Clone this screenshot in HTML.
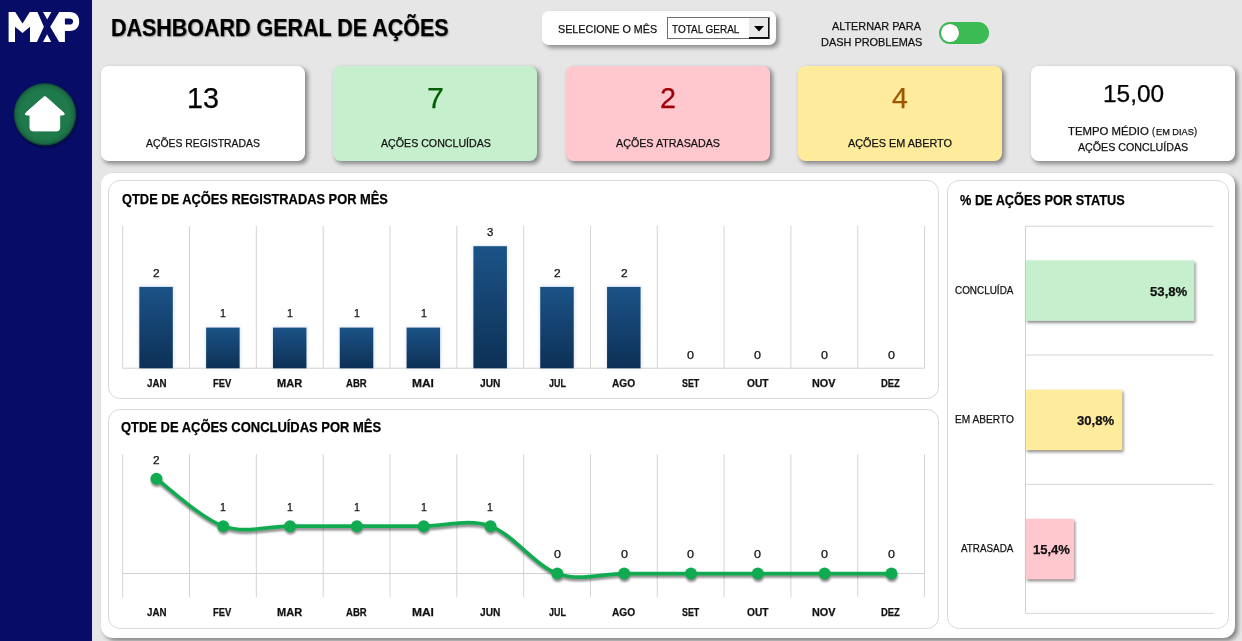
<!DOCTYPE html>
<html><head><meta charset="utf-8"><title>Dashboard Geral de Ações</title><style>
html,body{margin:0;padding:0}
body{width:1242px;height:641px;overflow:hidden;background:#e6e6e6;position:relative;font-family:"Liberation Sans",sans-serif}
.t{position:absolute;white-space:nowrap;transform-origin:0 0;margin:0;padding:0;line-height:40px;-webkit-text-stroke:0.25px currentColor}
#side{position:absolute;left:0;top:0;width:92px;height:641px;background:#070d66}
#sideline{position:absolute;left:92px;top:0;width:1px;height:641px;background:#dfe3f7}
#logo{position:absolute;left:0;top:0}
#home{position:absolute;left:0;top:70px}
#selbox{position:absolute;left:542px;top:11px;width:234px;height:34px;background:#fff;border-radius:7px;box-shadow:3px 3px 4px rgba(0,0,0,.38)}
#combo{position:absolute;left:667px;top:17px;width:101px;height:20px;background:#fff;border:1px solid #707070}
#cbtn{position:absolute;right:0;top:0;width:19px;height:19px;background:#e9e9e9;border-right:1px solid #111;border-bottom:2px solid #111}
#tog{position:absolute;left:939px;top:21.6px;width:50.4px;height:22.4px;border-radius:11.2px;background:#3cba54}
#knob{position:absolute;left:2.4px;top:2.3px;width:17.8px;height:17.8px;border-radius:50%;background:#fff;box-shadow:0 0 1px rgba(0,0,0,.3)}
.card{position:absolute;top:65.9px;width:204.1px;height:95.1px;border-radius:7.5px;box-shadow:2.5px 2.5px 4px rgba(0,0,0,.4)}
#big{position:absolute;left:101px;top:173.4px;width:1134.4px;height:464.4px;background:#fff;border-radius:12px;box-shadow:3px 3px 4px rgba(0,0,0,.42)}
.cbox{position:absolute;border:1px solid #d9d9d9;border-radius:12px;background:#fff;box-sizing:border-box}
#ch{position:absolute;left:0;top:0}
</style></head><body>
<div id="side"></div><div id="sideline"></div>
<svg id="logo" width="92" height="60" viewBox="0 0 92 60">
<g fill="#fff">
<path d="M8.6 42 V12 H15.2 L22.5 23.4 L29.8 12 H37.4 L43.9 26.7 L36.9 42 H30 V26.8 L22.5 33.1 L15 26.8 V42 Z"/>
<path d="M43 12 H51.4 L47.2 19.4 Z"/>
<path d="M43 42 H51.2 L47.1 34.2 Z"/>
<path d="M50.2 26.7 L59.2 12 H69.5 C76 12 79.2 16 79.2 21.4 C79.2 26.8 76 30.9 69.5 30.9 H64.9 V42 H59.2 Z M64.9 18.4 V24.6 H69.3 C71.9 24.6 73.1 23.4 73.1 21.5 C73.1 19.6 71.9 18.4 69.3 18.4 Z" fill-rule="evenodd"/>
</g></svg>
<svg id="home" width="92" height="90" viewBox="0 70 92 90">
<defs><radialGradient id="hg" cx="50%" cy="50%" r="50%"><stop offset="0.78" stop-color="#1f7a4b"/><stop offset="0.93" stop-color="#1a6a42"/><stop offset="1" stop-color="#0e3b3a"/></radialGradient>
<filter id="hb" x="-20%" y="-20%" width="140%" height="140%"><feGaussianBlur stdDeviation="1.5"/></filter></defs>
<circle cx="46" cy="116" r="31.5" fill="#050838" filter="url(#hb)"/>
<circle cx="45" cy="114.3" r="31.3" fill="url(#hg)"/>
<path d="M43.6 97.2 Q44.9 96 46.2 97.2 L63.9 113 Q65 115 62.8 115 H59.7 V128 Q59.7 130.9 56.8 130.9 H32.9 Q30 130.9 30 128 V115 H26.8 Q24.6 115 25.7 113 Z" fill="#fff" stroke="#fff" stroke-width="1" stroke-linejoin="round"/>
</svg>
<div class="t" style="left:111.05px;top:8px;font-size:23.56px;font-weight:bold;color:#000;transform:scaleX(0.9117);text-shadow:1.2px 1.2px 1.6px rgba(0,0,0,.3);">DASHBOARD GERAL DE AÇÕES</div>
<div id="selbox"></div>
<div class="t" style="left:557.52px;top:9px;font-size:11.35px;color:#111;transform:scaleX(0.9465);">SELECIONE O MÊS</div>
<div id="combo"><div id="cbtn"><svg width="10" height="6" viewBox="0 0 10 6" style="position:absolute;left:4.5px;top:7.5px"><path d="M0 0H10L5 5.5Z" fill="#000"/></svg></div></div>
<div class="t" style="left:671.58px;top:9px;font-size:11.35px;color:#111;transform:scaleX(0.8781);">TOTAL GERAL</div>
<div class="t" style="left:832.37px;top:6px;font-size:11.35px;color:#111;transform:scaleX(0.9576);">ALTERNAR PARA</div>
<div class="t" style="left:820.70px;top:22px;font-size:11.35px;color:#111;transform:scaleX(0.9630);">DASH PROBLEMAS</div>
<div id="tog"><div id="knob"></div></div>
<div class="card" style="left:100.9px;background:#fff"></div>
<div class="card" style="left:333.2px;background:#c6efce"></div>
<div class="card" style="left:565.8px;background:#ffc7ce"></div>
<div class="card" style="left:797.85px;background:#ffeb9c"></div>
<div class="card" style="left:1031.05px;background:#fff"></div>
<div class="t" style="left:186.75px;top:78px;font-size:28.67px;color:#000;transform:scaleX(1.0014);">13</div>
<div class="t" style="left:427.08px;top:78px;font-size:29.09px;color:#006100;transform:scaleX(1.0426);">7</div>
<div class="t" style="left:659.86px;top:78px;font-size:28.67px;color:#9c0006;transform:scaleX(1.0041);">2</div>
<div class="t" style="left:892.36px;top:78px;font-size:29.09px;color:#9c5700;transform:scaleX(0.9802);">4</div>
<div class="t" style="left:1102.57px;top:74px;font-size:23.80px;color:#000;transform:scaleX(1.0267);">15,00</div>
<div class="t" style="left:146.17px;top:123px;font-size:11.20px;color:#111;transform:scaleX(0.9305);">AÇÕES REGISTRADAS</div>
<div class="t" style="left:380.57px;top:123px;font-size:11.20px;color:#111;transform:scaleX(0.9504);">AÇÕES CONCLUÍDAS</div>
<div class="t" style="left:616.07px;top:123px;font-size:11.20px;color:#111;transform:scaleX(0.9576);">AÇÕES ATRASADAS</div>
<div class="t" style="left:848.47px;top:123px;font-size:11.20px;color:#111;transform:scaleX(0.9699);">AÇÕES EM ABERTO</div>
<div class="t" style="left:1068.34px;top:111px;font-size:11.05px;color:#111;transform:scaleX(1.0280);">TEMPO MÉDIO</div>
<div class="t" style="left:1152.23px;top:111px;font-size:11.05px;color:#111;transform:scaleX(0.8193);">(</div>
<div class="t" style="left:1155.54px;top:112px;font-size:9.16px;color:#111;transform:scaleX(1.0050);">EM DIAS</div>
<div class="t" style="left:1194.33px;top:111px;font-size:11.05px;color:#111;transform:scaleX(0.8534);">)</div>
<div class="t" style="left:1077.87px;top:127px;font-size:11.05px;color:#111;transform:scaleX(0.9646);">AÇÕES CONCLUÍDAS</div>
<div id="big"></div>
<div class="cbox" style="left:107.9px;top:179.9px;width:831.6px;height:219.6px"></div>
<div class="cbox" style="left:107.9px;top:409px;width:831.6px;height:219.8px"></div>
<div class="cbox" style="left:946.9px;top:179.9px;width:282.4px;height:448.9px"></div>
<div class="t" style="left:121.59px;top:179px;font-size:14.40px;font-weight:bold;color:#000;transform:scaleX(0.8930);">QTDE DE AÇÕES REGISTRADAS POR MÊS</div>
<div class="t" style="left:120.68px;top:407px;font-size:14.40px;font-weight:bold;color:#000;transform:scaleX(0.9001);">QTDE DE AÇÕES CONCLUÍDAS POR MÊS</div>
<div class="t" style="left:960.18px;top:180px;font-size:14.40px;font-weight:bold;color:#000;transform:scaleX(0.8860);">% DE AÇÕES POR STATUS</div>
<svg id="ch" width="1242" height="641" viewBox="0 0 1242 641">
<defs>
<linearGradient id="bg1" x1="0" y1="0" x2="0" y2="1"><stop offset="0" stop-color="#1b5387"/><stop offset="1" stop-color="#0d3056"/></linearGradient>
<filter id="glow" x="-30%" y="-10%" width="160%" height="120%"><feGaussianBlur stdDeviation="1.6"/></filter>
<filter id="lsh" x="-5%" y="-20%" width="110%" height="150%"><feGaussianBlur stdDeviation="1.3"/></filter>
<filter id="bsh" x="-10%" y="-10%" width="130%" height="130%"><feGaussianBlur stdDeviation="1.4"/></filter>
</defs>
<line x1="122.70" x2="122.70" y1="226" y2="368.5" stroke="#d4d4d4" stroke-width="1"/>
<line x1="189.52" x2="189.52" y1="226" y2="368.5" stroke="#d4d4d4" stroke-width="1"/>
<line x1="256.34" x2="256.34" y1="226" y2="368.5" stroke="#d4d4d4" stroke-width="1"/>
<line x1="323.16" x2="323.16" y1="226" y2="368.5" stroke="#d4d4d4" stroke-width="1"/>
<line x1="389.98" x2="389.98" y1="226" y2="368.5" stroke="#d4d4d4" stroke-width="1"/>
<line x1="456.80" x2="456.80" y1="226" y2="368.5" stroke="#d4d4d4" stroke-width="1"/>
<line x1="523.62" x2="523.62" y1="226" y2="368.5" stroke="#d4d4d4" stroke-width="1"/>
<line x1="590.44" x2="590.44" y1="226" y2="368.5" stroke="#d4d4d4" stroke-width="1"/>
<line x1="657.26" x2="657.26" y1="226" y2="368.5" stroke="#d4d4d4" stroke-width="1"/>
<line x1="724.08" x2="724.08" y1="226" y2="368.5" stroke="#d4d4d4" stroke-width="1"/>
<line x1="790.90" x2="790.90" y1="226" y2="368.5" stroke="#d4d4d4" stroke-width="1"/>
<line x1="857.72" x2="857.72" y1="226" y2="368.5" stroke="#d4d4d4" stroke-width="1"/>
<line x1="924.54" x2="924.54" y1="226" y2="368.5" stroke="#d4d4d4" stroke-width="1"/>
<line x1="122.70" x2="924.54" y1="368.2" y2="368.2" stroke="#d0d0d0" stroke-width="1"/>
<rect x="138.31" y="285.70" width="36" height="82.90" fill="#b9cfe6" opacity=".4" filter="url(#glow)"/>
<rect x="139.31" y="286.90" width="33.5" height="81.40" fill="url(#bg1)"/>
<rect x="205.13" y="326.40" width="36" height="42.20" fill="#b9cfe6" opacity=".4" filter="url(#glow)"/>
<rect x="206.13" y="327.60" width="33.5" height="40.70" fill="url(#bg1)"/>
<rect x="271.95" y="326.40" width="36" height="42.20" fill="#b9cfe6" opacity=".4" filter="url(#glow)"/>
<rect x="272.95" y="327.60" width="33.5" height="40.70" fill="url(#bg1)"/>
<rect x="338.77" y="326.40" width="36" height="42.20" fill="#b9cfe6" opacity=".4" filter="url(#glow)"/>
<rect x="339.77" y="327.60" width="33.5" height="40.70" fill="url(#bg1)"/>
<rect x="405.59" y="326.40" width="36" height="42.20" fill="#b9cfe6" opacity=".4" filter="url(#glow)"/>
<rect x="406.59" y="327.60" width="33.5" height="40.70" fill="url(#bg1)"/>
<rect x="472.41" y="245.00" width="36" height="123.60" fill="#b9cfe6" opacity=".4" filter="url(#glow)"/>
<rect x="473.41" y="246.20" width="33.5" height="122.10" fill="url(#bg1)"/>
<rect x="539.23" y="285.70" width="36" height="82.90" fill="#b9cfe6" opacity=".4" filter="url(#glow)"/>
<rect x="540.23" y="286.90" width="33.5" height="81.40" fill="url(#bg1)"/>
<rect x="606.05" y="285.70" width="36" height="82.90" fill="#b9cfe6" opacity=".4" filter="url(#glow)"/>
<rect x="607.05" y="286.90" width="33.5" height="81.40" fill="url(#bg1)"/>
<line x1="122.70" x2="122.70" y1="454.2" y2="597.2" stroke="#d4d4d4" stroke-width="1"/>
<line x1="189.52" x2="189.52" y1="454.2" y2="597.2" stroke="#d4d4d4" stroke-width="1"/>
<line x1="256.34" x2="256.34" y1="454.2" y2="597.2" stroke="#d4d4d4" stroke-width="1"/>
<line x1="323.16" x2="323.16" y1="454.2" y2="597.2" stroke="#d4d4d4" stroke-width="1"/>
<line x1="389.98" x2="389.98" y1="454.2" y2="597.2" stroke="#d4d4d4" stroke-width="1"/>
<line x1="456.80" x2="456.80" y1="454.2" y2="597.2" stroke="#d4d4d4" stroke-width="1"/>
<line x1="523.62" x2="523.62" y1="454.2" y2="597.2" stroke="#d4d4d4" stroke-width="1"/>
<line x1="590.44" x2="590.44" y1="454.2" y2="597.2" stroke="#d4d4d4" stroke-width="1"/>
<line x1="657.26" x2="657.26" y1="454.2" y2="597.2" stroke="#d4d4d4" stroke-width="1"/>
<line x1="724.08" x2="724.08" y1="454.2" y2="597.2" stroke="#d4d4d4" stroke-width="1"/>
<line x1="790.90" x2="790.90" y1="454.2" y2="597.2" stroke="#d4d4d4" stroke-width="1"/>
<line x1="857.72" x2="857.72" y1="454.2" y2="597.2" stroke="#d4d4d4" stroke-width="1"/>
<line x1="924.54" x2="924.54" y1="454.2" y2="597.2" stroke="#d4d4d4" stroke-width="1"/>
<line x1="122.70" x2="924.54" y1="573.5" y2="573.5" stroke="#d0d0d0" stroke-width="1"/>
<g transform="translate(0.5,2.5)" opacity=".45" filter="url(#lsh)"><path d="M156.41 478.70 C167.55 486.61 200.96 518.24 223.23 526.15 C245.50 534.06 267.78 526.15 290.05 526.15 C312.32 526.15 334.60 526.15 356.87 526.15 C379.14 526.15 401.42 526.15 423.69 526.15 C445.96 526.15 468.24 518.24 490.51 526.15 C512.78 534.06 535.06 565.69 557.33 573.60 C579.60 581.51 601.88 573.60 624.15 573.60 C646.42 573.60 668.70 573.60 690.97 573.60 C713.24 573.60 735.52 573.60 757.79 573.60 C780.06 573.60 802.34 573.60 824.61 573.60 C846.88 573.60 880.29 573.60 891.43 573.60" fill="none" stroke="#000" stroke-width="3.5"/><circle cx="156.41" cy="478.70" r="5.9" fill="#000"/><circle cx="223.23" cy="526.15" r="5.9" fill="#000"/><circle cx="290.05" cy="526.15" r="5.9" fill="#000"/><circle cx="356.87" cy="526.15" r="5.9" fill="#000"/><circle cx="423.69" cy="526.15" r="5.9" fill="#000"/><circle cx="490.51" cy="526.15" r="5.9" fill="#000"/><circle cx="557.33" cy="573.60" r="5.9" fill="#000"/><circle cx="624.15" cy="573.60" r="5.9" fill="#000"/><circle cx="690.97" cy="573.60" r="5.9" fill="#000"/><circle cx="757.79" cy="573.60" r="5.9" fill="#000"/><circle cx="824.61" cy="573.60" r="5.9" fill="#000"/><circle cx="891.43" cy="573.60" r="5.9" fill="#000"/></g>
<path d="M156.41 478.70 C167.55 486.61 200.96 518.24 223.23 526.15 C245.50 534.06 267.78 526.15 290.05 526.15 C312.32 526.15 334.60 526.15 356.87 526.15 C379.14 526.15 401.42 526.15 423.69 526.15 C445.96 526.15 468.24 518.24 490.51 526.15 C512.78 534.06 535.06 565.69 557.33 573.60 C579.60 581.51 601.88 573.60 624.15 573.60 C646.42 573.60 668.70 573.60 690.97 573.60 C713.24 573.60 735.52 573.60 757.79 573.60 C780.06 573.60 802.34 573.60 824.61 573.60 C846.88 573.60 880.29 573.60 891.43 573.60" fill="none" stroke="#10ab50" stroke-width="3.6" stroke-linecap="round"/>
<circle cx="156.41" cy="478.70" r="6" fill="#10ab50"/>
<circle cx="223.23" cy="526.15" r="6" fill="#10ab50"/>
<circle cx="290.05" cy="526.15" r="6" fill="#10ab50"/>
<circle cx="356.87" cy="526.15" r="6" fill="#10ab50"/>
<circle cx="423.69" cy="526.15" r="6" fill="#10ab50"/>
<circle cx="490.51" cy="526.15" r="6" fill="#10ab50"/>
<circle cx="557.33" cy="573.60" r="6" fill="#10ab50"/>
<circle cx="624.15" cy="573.60" r="6" fill="#10ab50"/>
<circle cx="690.97" cy="573.60" r="6" fill="#10ab50"/>
<circle cx="757.79" cy="573.60" r="6" fill="#10ab50"/>
<circle cx="824.61" cy="573.60" r="6" fill="#10ab50"/>
<circle cx="891.43" cy="573.60" r="6" fill="#10ab50"/>
<line x1="1025.5" x2="1213.6" y1="226.2" y2="226.2" stroke="#d4d4d4" stroke-width="1"/>
<line x1="1025.5" x2="1213.6" y1="355" y2="355" stroke="#d4d4d4" stroke-width="1"/>
<line x1="1025.5" x2="1213.6" y1="484.3" y2="484.3" stroke="#d4d4d4" stroke-width="1"/>
<line x1="1025.5" x2="1213.6" y1="613.3" y2="613.3" stroke="#d4d4d4" stroke-width="1"/>
<line x1="1025.5" x2="1025.5" y1="226" y2="613.5" stroke="#d0d0d0" stroke-width="1"/>
<rect x="1027" y="262.4" width="168.5" height="60.5" fill="#000" opacity=".45" filter="url(#bsh)"/>
<rect x="1025.8" y="260.4" width="168.5" height="60.5" fill="#c6efce"/>
<rect x="1027" y="391.7" width="96.5" height="60.5" fill="#000" opacity=".45" filter="url(#bsh)"/>
<rect x="1025.8" y="389.7" width="96.5" height="60.5" fill="#ffeb9c"/>
<rect x="1027" y="520.8" width="48.2" height="60.5" fill="#000" opacity=".45" filter="url(#bsh)"/>
<rect x="1025.8" y="518.8" width="48.2" height="60.5" fill="#ffc7ce"/>
</svg>
<div class="t" style="left:146.61px;top:363px;font-size:10.91px;font-weight:bold;color:#111;transform:scaleX(0.8940);">JAN</div>
<div class="t" style="left:146.61px;top:592px;font-size:10.91px;font-weight:bold;color:#111;transform:scaleX(0.8940);">JAN</div>
<div class="t" style="left:213.49px;top:363px;font-size:10.91px;font-weight:bold;color:#111;transform:scaleX(0.8627);">FEV</div>
<div class="t" style="left:213.49px;top:592px;font-size:10.91px;font-weight:bold;color:#111;transform:scaleX(0.8627);">FEV</div>
<div class="t" style="left:276.96px;top:363px;font-size:10.91px;font-weight:bold;color:#111;transform:scaleX(1.0099);">MAR</div>
<div class="t" style="left:276.96px;top:592px;font-size:10.91px;font-weight:bold;color:#111;transform:scaleX(1.0099);">MAR</div>
<div class="t" style="left:346.23px;top:363px;font-size:10.91px;font-weight:bold;color:#111;transform:scaleX(0.8734);">ABR</div>
<div class="t" style="left:346.23px;top:592px;font-size:10.91px;font-weight:bold;color:#111;transform:scaleX(0.8734);">ABR</div>
<div class="t" style="left:412.43px;top:363px;font-size:10.91px;font-weight:bold;color:#111;transform:scaleX(1.0962);">MAI</div>
<div class="t" style="left:412.43px;top:592px;font-size:10.91px;font-weight:bold;color:#111;transform:scaleX(1.0962);">MAI</div>
<div class="t" style="left:480.26px;top:363px;font-size:10.91px;font-weight:bold;color:#111;transform:scaleX(0.9370);">JUN</div>
<div class="t" style="left:480.26px;top:592px;font-size:10.91px;font-weight:bold;color:#111;transform:scaleX(0.9370);">JUN</div>
<div class="t" style="left:548.70px;top:363px;font-size:10.91px;font-weight:bold;color:#111;transform:scaleX(0.8159);">JUL</div>
<div class="t" style="left:548.70px;top:592px;font-size:10.91px;font-weight:bold;color:#111;transform:scaleX(0.8159);">JUL</div>
<div class="t" style="left:612.35px;top:363px;font-size:10.91px;font-weight:bold;color:#111;transform:scaleX(0.9333);">AGO</div>
<div class="t" style="left:612.35px;top:592px;font-size:10.91px;font-weight:bold;color:#111;transform:scaleX(0.9333);">AGO</div>
<div class="t" style="left:681.95px;top:363px;font-size:10.91px;font-weight:bold;color:#111;transform:scaleX(0.8132);">SET</div>
<div class="t" style="left:681.95px;top:592px;font-size:10.91px;font-weight:bold;color:#111;transform:scaleX(0.8132);">SET</div>
<div class="t" style="left:746.58px;top:363px;font-size:10.91px;font-weight:bold;color:#111;transform:scaleX(0.9345);">OUT</div>
<div class="t" style="left:746.58px;top:592px;font-size:10.91px;font-weight:bold;color:#111;transform:scaleX(0.9345);">OUT</div>
<div class="t" style="left:812.28px;top:363px;font-size:10.91px;font-weight:bold;color:#111;transform:scaleX(0.9900);">NOV</div>
<div class="t" style="left:812.28px;top:592px;font-size:10.91px;font-weight:bold;color:#111;transform:scaleX(0.9900);">NOV</div>
<div class="t" style="left:881.49px;top:363px;font-size:10.91px;font-weight:bold;color:#111;transform:scaleX(0.8661);">DEZ</div>
<div class="t" style="left:881.49px;top:592px;font-size:10.91px;font-weight:bold;color:#111;transform:scaleX(0.8661);">DEZ</div>
<div class="t" style="left:153.12px;top:253px;font-size:10.61px;color:#111;transform:scaleX(1.1187);">2</div>
<div class="t" style="left:220.13px;top:293px;font-size:10.76px;color:#111;transform:scaleX(0.9881);">1</div>
<div class="t" style="left:286.95px;top:293px;font-size:10.76px;color:#111;transform:scaleX(0.9881);">1</div>
<div class="t" style="left:353.77px;top:293px;font-size:10.76px;color:#111;transform:scaleX(0.9881);">1</div>
<div class="t" style="left:420.59px;top:293px;font-size:10.76px;color:#111;transform:scaleX(0.9881);">1</div>
<div class="t" style="left:487.38px;top:212px;font-size:10.61px;color:#111;transform:scaleX(1.0716);">3</div>
<div class="t" style="left:554.04px;top:253px;font-size:10.61px;color:#111;transform:scaleX(1.1187);">2</div>
<div class="t" style="left:620.86px;top:253px;font-size:10.61px;color:#111;transform:scaleX(1.1187);">2</div>
<div class="t" style="left:687.47px;top:335px;font-size:10.61px;color:#111;transform:scaleX(1.1844);">0</div>
<div class="t" style="left:754.29px;top:335px;font-size:10.61px;color:#111;transform:scaleX(1.1844);">0</div>
<div class="t" style="left:821.11px;top:335px;font-size:10.61px;color:#111;transform:scaleX(1.1844);">0</div>
<div class="t" style="left:887.93px;top:335px;font-size:10.61px;color:#111;transform:scaleX(1.1844);">0</div>
<div class="t" style="left:153.12px;top:440px;font-size:10.61px;color:#111;transform:scaleX(1.1187);">2</div>
<div class="t" style="left:220.13px;top:487px;font-size:10.76px;color:#111;transform:scaleX(0.9881);">1</div>
<div class="t" style="left:286.95px;top:487px;font-size:10.76px;color:#111;transform:scaleX(0.9881);">1</div>
<div class="t" style="left:353.77px;top:487px;font-size:10.76px;color:#111;transform:scaleX(0.9881);">1</div>
<div class="t" style="left:420.59px;top:487px;font-size:10.76px;color:#111;transform:scaleX(0.9881);">1</div>
<div class="t" style="left:487.41px;top:487px;font-size:10.76px;color:#111;transform:scaleX(0.9881);">1</div>
<div class="t" style="left:553.83px;top:534px;font-size:10.61px;color:#111;transform:scaleX(1.1844);">0</div>
<div class="t" style="left:620.65px;top:534px;font-size:10.61px;color:#111;transform:scaleX(1.1844);">0</div>
<div class="t" style="left:687.47px;top:534px;font-size:10.61px;color:#111;transform:scaleX(1.1844);">0</div>
<div class="t" style="left:754.29px;top:534px;font-size:10.61px;color:#111;transform:scaleX(1.1844);">0</div>
<div class="t" style="left:821.11px;top:534px;font-size:10.61px;color:#111;transform:scaleX(1.1844);">0</div>
<div class="t" style="left:887.93px;top:534px;font-size:10.61px;color:#111;transform:scaleX(1.1844);">0</div>
<div class="t" style="left:955.40px;top:270px;font-size:10.91px;color:#111;transform:scaleX(0.9092);">CONCLUÍDA</div>
<div class="t" style="left:955.46px;top:399px;font-size:10.91px;color:#111;transform:scaleX(0.9300);">EM ABERTO</div>
<div class="t" style="left:961.48px;top:528px;font-size:10.91px;color:#111;transform:scaleX(0.9024);">ATRASADA</div>
<div class="t" style="left:1149.51px;top:272px;font-size:12.90px;font-weight:bold;color:#111;transform:scaleX(1.0203);">53,8%</div>
<div class="t" style="left:1077.00px;top:401px;font-size:12.90px;font-weight:bold;color:#111;transform:scaleX(1.0176);">30,8%</div>
<div class="t" style="left:1033.39px;top:530px;font-size:12.90px;font-weight:bold;color:#111;transform:scaleX(1.0098);">15,4%</div>
</body></html>
